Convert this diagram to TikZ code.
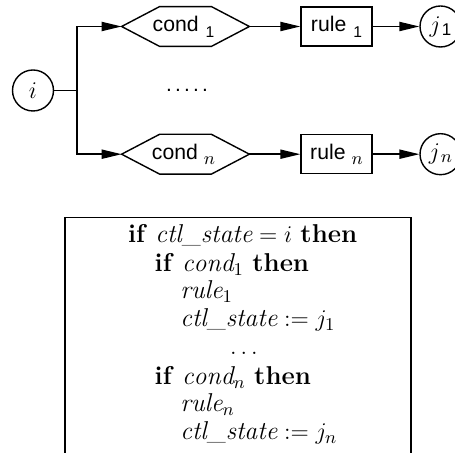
\documentclass[tikz,border=0pt]{standalone}
\usepackage{fontspec}
\newfontfamily\labelfont{Liberation Sans}
\usetikzlibrary{arrows.meta}

% small lowered index used in the flow chart labels
\newcommand\lowidx[2][3pt]{\raisebox{-#1}{#2}}

\begin{document}
\begin{tikzpicture}[x=0.5pt,y=-0.5pt,
  flow/.style={-{Triangle[length=10pt,width=4.6pt]}, line width=0.7pt},
  link/.style={line width=0.7pt},
  state/.style={circle, draw, line width=0.7pt, minimum size=20.5pt, inner sep=0pt,
    font=\fontsize{12.5}{14}\selectfont},
  rulebox/.style={draw, line width=0.7pt, minimum width=35.5pt, minimum height=19.5pt,
    inner sep=0pt, font=\labelfont\fontsize{10.6}{12}\selectfont},
  guardtext/.style={minimum width=25.5pt, minimum height=19.5pt, inner sep=0pt,
    font=\labelfont\fontsize{10.6}{12}\selectfont},
  guard/.style={line width=0.7pt},
  code/.style={anchor=base west, inner sep=0pt, font=\fontsize{12.9}{15}\selectfont},
  frame/.style={line width=0.75pt}
]
\useasboundingbox (0,0) rectangle (455,453);

% ---- flow chart of one control state ----
\node[state] (i) at (33,90.5) {$i$};

% the guard text is centred in a fixed-width box so that the hexagon keeps its size
\node[guardtext] (c1) at (185.5,26.5)
  {\makebox[25.5pt]{\hspace{-2pt}cond\hspace{3.5pt}\lowidx{\fontsize{7.8}{8}\selectfont 1}}};
\node[guardtext] (cn) at (185.5,154.2)
  {\makebox[25.5pt]{\hspace{-2pt}cond\hspace{3pt}\lowidx[2.8pt]{\fontsize{9}{9}\selectfont$n$}}};
\foreach \g in {c1,cn} {
  \draw[guard] (\g.north west) -- (\g.north east) -- ([xshift=19pt]\g.east)
    -- (\g.south east) -- (\g.south west) -- ([xshift=-19pt]\g.west) -- cycle;
  \coordinate (\g in) at ([xshift=-19pt]\g.west);
  \coordinate (\g out) at ([xshift=19pt]\g.east);
}

\node[rulebox] (r1) at (336.5,26.5)
  {rule\hspace{3.5pt}\lowidx{\fontsize{7.8}{8}\selectfont 1}};
\node[rulebox] (rn) at (336.5,154.2)
  {rule\hspace{3pt}\lowidx[2.8pt]{\fontsize{9}{9}\selectfont$n$}};

\node[state] (j1) at (440.5,26.5)
  {$j$\hspace{0.5pt}\lowidx[1.5pt]{\labelfont\fontsize{8.5}{9}\selectfont 1}};
\node[state] (jn) at (440.5,154.2)
  {$j$\hspace{0.5pt}\lowidx[1.5pt]{\fontsize{9.5}{10}\selectfont$n$}};

\node[anchor=base, inner sep=0pt, font=\labelfont\fontsize{10.4}{12}\selectfont]
  (dots) at (187,92) {.\kern1.6pt.\kern1.6pt.\kern1.6pt.\kern1.6pt.};

\coordinate (fork) at (77,90.5);
\draw[link] (i) -- (fork);
\draw[flow] (fork) |- (c1in);
\draw[flow] (fork) |- (cnin);
\draw[flow] (c1out) -- (r1);
\draw[flow] (cnout) -- (rn);
\draw[flow] (r1) -- (j1);
\draw[flow] (rn) -- (jn);

% ---- the same transitions as guarded code ----
\draw[frame] (65,453) -- (65,217.3) -- (411,217.3) -- (411,453);

\node[code] (l1) at (127.7,243)
  {\textbf{if} $\mathit{ctl\_state} = i$ \textbf{then}};
\node[code] (l2) at (154.3,271.7) {\textbf{if} $\mathit{cond}_1$ \textbf{then}};
\node[code] (l3) at (180,299) {$\mathit{rule}_1$};
\node[code] (l4) at (180,327) {$\mathit{ctl\_state} := j_1$};
\node[anchor=base, inner sep=0pt, font=\fontsize{12.9}{15}\selectfont]
  (l5) at (244,355) {$\ldots$};
\node[code] (l6) at (154.3,385) {\textbf{if} $\mathit{cond}_n$ \textbf{then}};
\node[code] (l7) at (180,412) {$\mathit{rule}_n$};
\node[code] (l8) at (180,440) {$\mathit{ctl\_state} := j_n$};
\end{tikzpicture}
\end{document}
